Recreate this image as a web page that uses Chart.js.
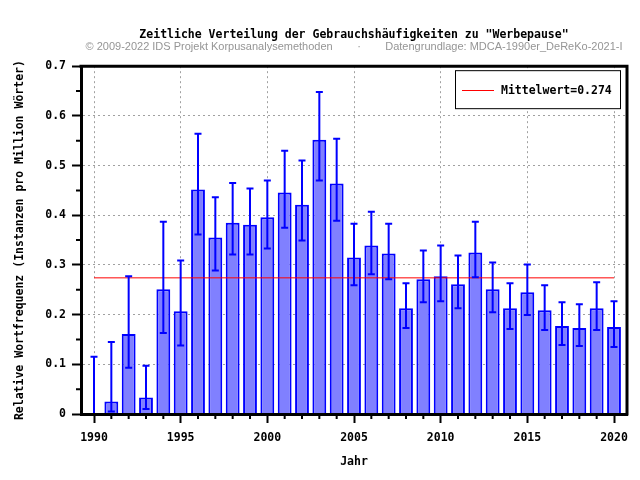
<!DOCTYPE html>
<html>
<head>
<meta charset="utf-8">
<script src="https://cdn.jsdelivr.net/npm/chart.js@4.4.1/dist/chart.umd.min.js"></script>
<style>
  html, body { margin: 0; padding: 0; background: #ffffff; }
  #wrap { width: 640px; height: 480px; position: relative; }
</style>
</head>
<body>
<div id="wrap"><canvas id="c" width="640" height="480"></canvas></div>
<script>
const YEARS = [1990, 1991, 1992, 1993, 1994, 1995, 1996, 1997, 1998, 1999, 2000, 2001, 2002, 2003, 2004, 2005, 2006, 2007, 2008, 2009, 2010, 2011, 2012, 2013, 2014, 2015, 2016, 2017, 2018, 2019, 2020];
const VALUES = [0, 0.025, 0.161, 0.033, 0.251, 0.207, 0.452, 0.355, 0.385, 0.381, 0.396, 0.446, 0.421, 0.552, 0.464, 0.315, 0.339, 0.323, 0.213, 0.271, 0.277, 0.261, 0.325, 0.251, 0.213, 0.245, 0.209, 0.177, 0.173, 0.213, 0.175];
const ERR_LOW = [0, 0.005, 0.093, 0.010, 0.163, 0.138, 0.361, 0.289, 0.321, 0.321, 0.333, 0.375, 0.349, 0.470, 0.389, 0.259, 0.281, 0.271, 0.173, 0.225, 0.227, 0.213, 0.275, 0.205, 0.171, 0.199, 0.169, 0.139, 0.137, 0.169, 0.135];
const ERR_HIGH = [0.115, 0.145, 0.277, 0.097, 0.387, 0.309, 0.564, 0.436, 0.465, 0.454, 0.470, 0.530, 0.510, 0.648, 0.554, 0.383, 0.407, 0.383, 0.263, 0.329, 0.339, 0.319, 0.387, 0.305, 0.263, 0.301, 0.259, 0.225, 0.221, 0.265, 0.227];
const MEAN = 0.274;
const MEAN_LABEL = 'Mittelwert=0.274';
const X_TICKS = [1990, 1995, 2000, 2005, 2010, 2015, 2020];
const Y_TICKS = [0, 0.1, 0.2, 0.3, 0.4, 0.5, 0.6, 0.7];
const Y_TICK_LABELS = ['0', '0.1', '0.2', '0.3', '0.4', '0.5', '0.6', '0.7'];
const Y_MINOR_TICKS = [0.05, 0.15, 0.25, 0.35, 0.45, 0.55, 0.65];
const TITLE = 'Zeitliche Verteilung der Gebrauchshäufigkeiten zu "Werbepause"';
const SUBTITLE = '\u00A9 2009-2022 IDS Projekt Korpusanalysemethoden        \u00B7        Datengrundlage: MDCA-1990er_DeReKo-2021-I';
const X_TITLE = 'Jahr';
const Y_TITLE = 'Relative Wortfrequenz (Instanzen pro Million Wörter)';

const MONO = '"DejaVu Sans Mono", "Liberation Mono", monospace';
const monoBold = (size) => ({ family: MONO, size: size, weight: 'bold' });

const extrasPlugin = {
  id: 'extras',
  afterDatasetsDraw(chart) {
    const ctx = chart.ctx;
    const xs = chart.scales.x, ys = chart.scales.y;
    ctx.save();
    ctx.strokeStyle = '#0000ff';
    ctx.lineWidth = 2;
    const cap = 3.5;
    for (let i = 0; i < YEARS.length; i++) {
      const x = xs.getPixelForValue(YEARS[i]);
      const yl = ys.getPixelForValue(ERR_LOW[i]);
      const yh = ys.getPixelForValue(ERR_HIGH[i]);
      ctx.beginPath();
      ctx.moveTo(x, yl); ctx.lineTo(x, yh);
      ctx.moveTo(x - cap, yh); ctx.lineTo(x + cap, yh);
      ctx.moveTo(x - cap, yl); ctx.lineTo(x + cap, yl);
      ctx.stroke();
    }
    ctx.restore();
  },
  afterDraw(chart) {
    const ctx = chart.ctx;
    const a = chart.chartArea;
    const xs = chart.scales.x, ys = chart.scales.y;
    ctx.save();
    // frame top and right
    ctx.strokeStyle = '#000';
    ctx.lineWidth = 3;
    ctx.beginPath();
    ctx.moveTo(a.left - 1.5, a.top); ctx.lineTo(a.right, a.top); ctx.lineTo(a.right, a.bottom + 1.5);
    ctx.stroke();
    // minor ticks
    ctx.lineWidth = 2;
    ctx.beginPath();
    for (const v of Y_MINOR_TICKS) {
      const y = ys.getPixelForValue(v);
      ctx.moveTo(a.left - 5, y); ctx.lineTo(a.left, y);
    }
    for (const yr of YEARS) {
      if (X_TICKS.includes(yr)) continue;
      const x = xs.getPixelForValue(yr);
      ctx.moveTo(x, a.bottom); ctx.lineTo(x, a.bottom + 5);
    }
    ctx.stroke();
    // legend box
    const bw = 166, bh = 39;
    const bx = a.right - 6 - bw, by = a.top + 4;
    ctx.fillStyle = '#fff';
    ctx.fillRect(bx, by, bw, bh);
    ctx.lineWidth = 1;
    ctx.strokeStyle = '#000';
    ctx.strokeRect(bx + 0.5, by + 0.5, bw - 1, bh - 1);
    const ly = by + bh / 2;
    ctx.strokeStyle = '#ff0000';
    ctx.beginPath();
    ctx.moveTo(bx + 7, Math.round(ly) + 0.5); ctx.lineTo(bx + 39, Math.round(ly) + 0.5);
    ctx.stroke();
    ctx.fillStyle = '#000';
    ctx.font = 'bold 11.5px ' + MONO;
    ctx.textBaseline = 'middle';
    ctx.textAlign = 'left';
    ctx.fillText(MEAN_LABEL, bx + 46, ly + 1);
    ctx.restore();
  }
};

new Chart(document.getElementById('c'), {
  type: 'bar',
  data: {
    datasets: [
      {
        type: 'line',
        label: MEAN_LABEL,
        data: [{ x: YEARS[0], y: MEAN }, { x: YEARS[YEARS.length - 1], y: MEAN }],
        borderColor: '#ff0000',
        borderWidth: 1,
        pointRadius: 0,
        fill: false,
        order: 0
      },
      {
        type: 'bar',
        label: 'Frequenz',
        data: YEARS.map((yr, i) => ({ x: yr, y: VALUES[i] })),
        backgroundColor: '#8080ff',
        borderColor: '#0000ff',
        borderWidth: 2,
        borderSkipped: 'start',
        barPercentage: 0.8,
        categoryPercentage: 1.0,
        order: 1
      }
    ]
  },
  options: {
    responsive: false,
    animation: false,
    events: [],
    layout: { padding: { top: 0, left: 0, right: 13, bottom: 0 } },
    plugins: {
      legend: { display: false },
      tooltip: { enabled: false },
      title: {
        display: true,
        text: TITLE,
        color: '#000',
        fullSize: false,
        font: { family: MONO, size: 11.5, weight: 'bold', lineHeight: 1.05 },
        padding: { top: 29, bottom: 0 }
      },
      subtitle: {
        display: true,
        text: SUBTITLE,
        color: '#959595',
        fullSize: false,
        font: { family: '"Liberation Sans", Arial, sans-serif', size: 11, weight: 'normal', lineHeight: 1.1 },
        padding: { top: 0, bottom: 13 }
      }
    },
    scales: {
      x: {
        type: 'linear',
        min: 1989.25,
        max: 2020.75,
        offset: false,
        afterBuildTicks: (s) => { s.ticks = X_TICKS.map(v => ({ value: v })); },
        afterFit: (s) => { s.height = 66; },
        ticks: {
          color: '#000',
          font: monoBold(11.5),
          padding: 8,
          maxRotation: 0,
          autoSkip: false,
          callback: (v) => String(v)
        },
        grid: {
          offset: false,
          color: '#a0a0a0',
          lineWidth: 1,
          drawTicks: true,
          tickLength: 9,
          tickColor: '#000',
          tickWidth: 2
        },
        border: { display: true, color: '#000', width: 3, dash: [2, 3], z: 1 },
        title: {
          display: true,
          text: X_TITLE,
          color: '#000',
          font: monoBold(11.5),
          padding: { top: 0, bottom: 11 }
        }
      },
      y: {
        type: 'linear',
        min: 0,
        max: 0.7,
        afterBuildTicks: (s) => { s.ticks = Y_TICKS.map(v => ({ value: v })); },
        afterFit: (s) => { s.width = 81; },
        ticks: {
          color: '#000',
          font: monoBold(11.5),
          padding: 6,
          autoSkip: false,
          callback: (v) => { const i = Y_TICKS.findIndex(t => Math.abs(t - v) < 1e-9); return i >= 0 ? Y_TICK_LABELS[i] : ''; }
        },
        grid: {
          color: '#a0a0a0',
          lineWidth: 1,
          drawTicks: true,
          tickLength: 9,
          tickColor: '#000',
          tickWidth: 2
        },
        border: { display: true, color: '#000', width: 3, dash: [2, 3], z: 1 },
        title: {
          display: true,
          text: Y_TITLE,
          color: '#000',
          font: monoBold(11.5),
          padding: { top: 13, bottom: 0 }
        }
      }
    }
  },
  plugins: [extrasPlugin]
});
</script>
</body>
</html>
